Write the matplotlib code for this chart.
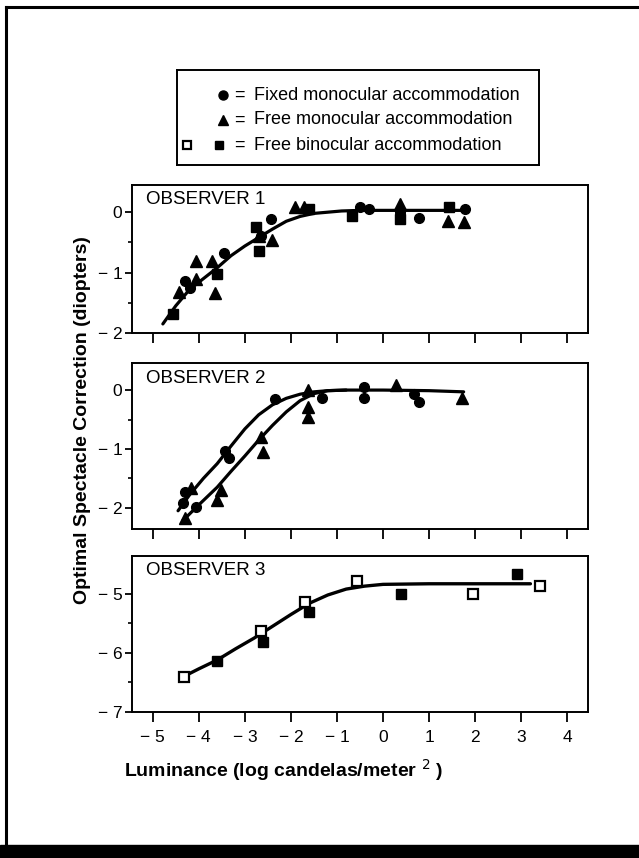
import matplotlib
matplotlib.use("Agg")
import matplotlib.pyplot as plt
from matplotlib.lines import Line2D
from matplotlib.patches import Rectangle

plt.rcParams['font.family'] = ['Liberation Sans', 'DejaVu Sans']

# ---------------- data ----------------
x_ticks = [-5, -4, -3, -2, -1, 0, 1, 2, 3, 4]
x_tick_labels = ['\u2212 5', '\u2212 4', '\u2212 3', '\u2212 2', '\u2212 1', '0', '1', '2', '3', '4']

# Observer 1
o1_circle_x = [-4.29, -4.20, -3.46, -2.44, -2.65, -0.49, -0.30, 0.37, 0.78, 1.79]
o1_circle_y = [-1.14, -1.25, -0.67, -0.11, -0.40, 0.08, 0.06, 0.00, -0.09, 0.05]
o1_tri_x = [-4.44, -4.07, -4.07, -3.72, -3.65, -2.70, -2.40, -1.91, -1.71, 0.37, 1.40, 1.75]
o1_tri_y = [-1.32, -0.81, -1.11, -0.81, -1.34, -0.40, -0.46, 0.09, 0.08, 0.13, -0.14, -0.17]
o1_sq_x = [-4.55, -3.60, -2.69, -2.75, -1.60, -0.67, 0.37, 1.44]
o1_sq_y = [-1.69, -1.03, -0.65, -0.25, 0.05, -0.06, -0.11, 0.08]
o1_curve_x = [-4.78, -4.5, -4.2, -3.9, -3.6, -3.3, -3.0, -2.7, -2.4, -2.1, -1.8, -1.5, -1.2, -0.9, -0.5, 0.0, 1.0, 1.8]
o1_curve_y = [-1.85, -1.55, -1.28, -1.10, -0.92, -0.72, -0.56, -0.42, -0.28, -0.15, -0.07, -0.02, 0.00, 0.02, 0.03, 0.03, 0.03, 0.03]

# Observer 2
o2_circle_x = [-4.29, -4.35, -4.07, -3.43, -3.35, -2.35, -1.32, -0.41, -0.41, 0.67, 0.78]
o2_circle_y = [-1.73, -1.92, -1.98, -1.03, -1.15, -0.15, -0.14, 0.06, -0.14, -0.06, -0.20]
o2_tri_x = [-4.29, -4.16, -3.60, -3.52, -2.65, -2.60, -1.63, -1.63, -1.63, 0.29, 1.71]
o2_tri_y = [-2.17, -1.67, -1.87, -1.70, -0.79, -1.05, 0.00, -0.28, -0.45, 0.08, -0.14]
o2_curve_a_x = [-4.45, -4.2, -3.9, -3.6, -3.3, -3.0, -2.7, -2.4, -2.1, -1.8, -1.5, -1.2, -0.8, 0.0, 1.0, 1.75]
o2_curve_a_y = [-2.05, -1.78, -1.50, -1.25, -0.95, -0.66, -0.42, -0.25, -0.14, -0.07, -0.03, -0.01, 0.00, 0.00, -0.01, -0.03]
o2_curve_b_x = [-4.35, -4.0, -3.6, -3.3, -3.0, -2.7, -2.4, -2.1, -1.8, -1.5, -1.2, -0.8]
o2_curve_b_y = [-2.22, -1.95, -1.65, -1.38, -1.12, -0.85, -0.60, -0.37, -0.18, -0.06, -0.01, 0.00]

# Observer 3
o3_open_x = [-4.33, -2.65, -1.69, -0.56, 1.95, 3.41]
o3_open_y = [-6.41, -5.63, -5.14, -4.78, -5.00, -4.87]
o3_fill_x = [-3.60, -2.60, -1.60, 0.39, 2.91]
o3_fill_y = [-6.13, -5.81, -5.31, -5.00, -4.66]
o3_curve_x = [-4.33, -4.0, -3.6, -3.2, -2.8, -2.4, -2.0, -1.6, -1.2, -0.8, -0.4, 0.0, 1.0, 2.0, 3.2]
o3_curve_y = [-6.40, -6.27, -6.12, -5.93, -5.75, -5.55, -5.35, -5.16, -5.02, -4.92, -4.87, -4.84, -4.83, -4.83, -4.83]

panel_titles = ['OBSERVER 1', 'OBSERVER 2', 'OBSERVER 3']
panel_yticks = [[0, -1, -2], [0, -1, -2], [-5, -6, -7]]
panel_ytick_labels = [['0', '\u2212 1', '\u2212 2'], ['0', '\u2212 1', '\u2212 2'], ['\u2212 5', '\u2212 6', '\u2212 7']]
panel_yminor = [[-0.5, -1.5], [-0.5, -1.5], [-5.5, -6.5]]
panel_ylims = [(-2.0, 0.45), (-2.36, 0.46), (-7.0, -4.36)]

legend_labels = ['Fixed monocular accommodation', 'Free monocular accommodation', 'Free binocular accommodation']

# ---------------- figure ----------------
W, H = 639, 858
fig = plt.figure(figsize=(W / 100, H / 100), dpi=100)

def fx(px):
    return px / W

def fy(py):
    return 1 - py / H

# outer frame
fig.add_artist(Line2D([fx(6), fx(639)], [fy(7), fy(7)], color='black', lw=2.2))
fig.add_artist(Line2D([fx(6), fx(6)], [fy(7), fy(846)], color='black', lw=2.2))
fig.add_artist(Rectangle((0, 0), 1, fy(845), color='black', transform=fig.transFigure, zorder=5))

left, right = 132, 588
panels_px = [(185, 333), (363, 529), (556, 712)]
axes = []
for top, bot in panels_px:
    ax = fig.add_axes([fx(left), fy(bot), fx(right - left), (bot - top) / H])
    axes.append(ax)

mk = dict(color='black', linestyle='none')
ms_c, ms_t, ms_s = 7, 8, 6.5

# Panel 1
ax = axes[0]
ax.plot(o1_curve_x, o1_curve_y, color='black', lw=2.3, solid_capstyle='round', zorder=2)
ax.plot(o1_circle_x, o1_circle_y, marker='o', ms=ms_c, **mk, zorder=3)
ax.plot(o1_tri_x, o1_tri_y, marker='^', ms=ms_t, **mk, zorder=3)
ax.plot(o1_sq_x, o1_sq_y, marker='s', ms=ms_s, **mk, zorder=3)

# Panel 2
ax = axes[1]
ax.plot(o2_curve_a_x, o2_curve_a_y, color='black', lw=2.3, solid_capstyle='round', zorder=2)
ax.plot(o2_curve_b_x, o2_curve_b_y, color='black', lw=2.3, solid_capstyle='round', zorder=2)
ax.plot(o2_circle_x, o2_circle_y, marker='o', ms=ms_c, **mk, zorder=3)
ax.plot(o2_tri_x, o2_tri_y, marker='^', ms=ms_t, **mk, zorder=3)

# Panel 3
ax = axes[2]
ax.plot(o3_curve_x, o3_curve_y, color='black', lw=2.4, solid_capstyle='round', zorder=2)
ax.plot(o3_fill_x, o3_fill_y, marker='s', ms=ms_s, **mk, zorder=3)
ax.plot(o3_open_x, o3_open_y, marker='s', ms=ms_s, mfc='white', mec='black', mew=1.6,
        linestyle='none', zorder=4)

for i, ax in enumerate(axes):
    ax.set_xlim(-5.45, 4.45)
    ax.set_ylim(*panel_ylims[i])
    ax.set_xticks(x_ticks)
    ax.set_yticks(panel_yticks[i])
    ax.set_yticklabels(panel_ytick_labels[i])
    ax.set_yticks(panel_yminor[i], minor=True)
    if i < 2:
        ax.set_xticklabels([])
    else:
        ax.set_xticklabels(x_tick_labels)
    ax.tick_params(axis='x', direction='out', length=7, width=1.3, pad=6, labelsize=12.5)
    ax.tick_params(axis='y', which='major', direction='out', length=5, width=1.3, pad=2, labelsize=12.5)
    ax.tick_params(axis='y', which='minor', direction='out', length=3, width=1.2)
    for s in ax.spines.values():
        s.set_linewidth(1.4)
    ax.text(0.03, 0.96, panel_titles[i], transform=ax.transAxes, ha='left', va='top',
            fontsize=13.5)

# axis labels
fig.text(fx(83), fy(420), 'Optimal Spectacle Correction (diopters)', rotation=90,
         ha='center', va='center', fontsize=14, fontweight='bold')
fig.text(fx(284), fy(770), 'Luminance (log candelas/meter $^{2}$ )',
         ha='center', va='center', fontsize=14, fontweight='bold')

# legend box
lx0, lx1, ly0, ly1 = 177, 539, 70, 165
lax = fig.add_axes([fx(lx0), fy(ly1), fx(lx1 - lx0), (ly1 - ly0) / H])
lax.set_xlim(lx0, lx1)
lax.set_ylim(ly1, ly0)
lax.set_xticks([])
lax.set_yticks([])
for s in lax.spines.values():
    s.set_linewidth(1.4)
rows = [95, 120, 145]
lax.plot([223], [rows[0]], marker='o', ms=6.5, **mk)
lax.plot([223], [rows[1]], marker='^', ms=7.5, **mk)
lax.plot([187], [rows[2]], marker='s', ms=6, mfc='white', mec='black', mew=1.6, linestyle='none')
lax.plot([219], [rows[2]], marker='s', ms=6, **mk)
for r, lab in zip(rows, legend_labels):
    lax.text(239, r, '=', ha='center', va='center', fontsize=13)
    lax.text(254, r, lab, ha='left', va='center', fontsize=13)

fig.savefig('out.png', dpi=100)
